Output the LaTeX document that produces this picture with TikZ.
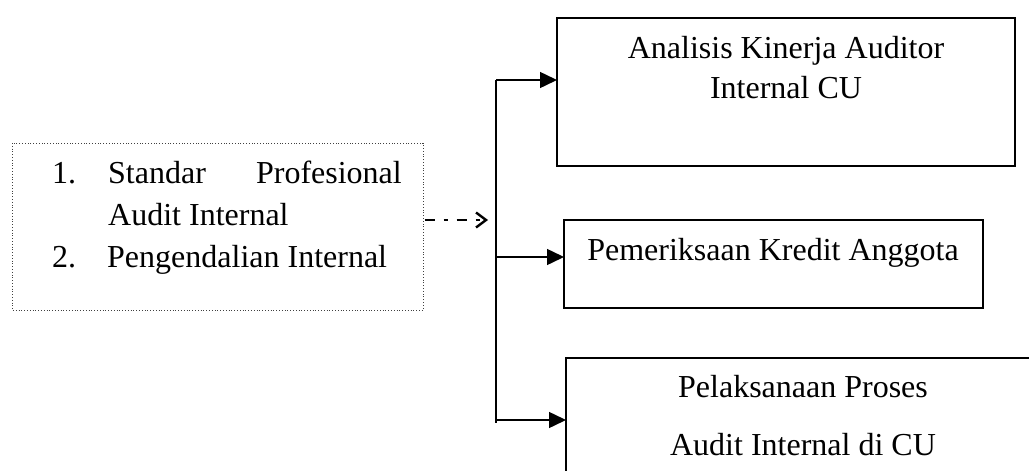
\documentclass[tikz,border=0pt]{standalone}
\usepackage{fontspec}
\setmainfont{Liberation Serif}
\usetikzlibrary{arrows.meta}
\begin{document}
\begin{tikzpicture}[x=1pt,y=-1pt,
  txt/.style={inner sep=0pt,anchor=base,font=\fontsize{32}{38}\selectfont},
  txtl/.style={inner sep=0pt,anchor=base west,font=\fontsize{32}{38}\selectfont},
  box/.style={draw,line width=1.3pt},
  arr/.style={line width=1.5pt,-{Triangle[length=17pt,width=16pt]}}]
\useasboundingbox (0,0) rectangle (1029,471);
% left dotted box
\draw[dotted,line width=0.8pt,black!75] (12,143) rectangle (423,310);
\node[inner sep=0pt] (src) at (424,220) {};
\node[txtl] (n1) at (52,183) {1.};
\node[txtl] (t1a) at (108,183) {Standar};
\node[inner sep=0pt,anchor=base east,font=\fontsize{32}{38}\selectfont] (t1b) at (402,183) {Profesional};
\node[txtl] (t1c) at (108,225) {Audit Internal};
\node[txtl] (n2) at (52,267) {2.};
\node[txtl] (t2) at (107,267) {Pengendalian Internal};
% boxes
\draw[box] (557,18) rectangle (1015,166);
\coordinate (b1w) at (557,92);
\node[txt] (b1t1) at (786,58) {Analisis Kinerja Auditor};
\node[txt] (b1t2) at (786,98) {Internal CU};
\draw[box] (564,220) rectangle (983,308);
\coordinate (b2w) at (564,264);
\node[txt] (b2t) at (773,260) {Pemeriksaan Kredit Anggota};
\draw[box] (566,358) rectangle (1045,490);
\coordinate (b3w) at (566,420);
\node[txt] (b3t1) at (803,397) {Pelaksanaan Proses};
\node[txt] (b3t2) at (803,455) {Audit Internal di CU};
% bus
\coordinate (bt) at (496,80);
\coordinate (bm) at (496,257);
\coordinate (bb) at (496,420);
\coordinate (bend) at (496,423);
\coordinate (dashend) at (488,220);
\draw[line width=1.6pt] (bt) -- (bend);
\draw[arr] (bt) -- (bt -| b1w);
\draw[arr] (bm) -- (bm -| b2w);
\draw[arr] (bb) -- (b3w);
\draw[line width=2.4pt,dash pattern=on 10pt off 9pt on 4pt off 9pt,-{Straight Barb[length=10pt,width=15pt,line width=2.4pt]}] (src) -- (dashend);
\end{tikzpicture}
\end{document}
